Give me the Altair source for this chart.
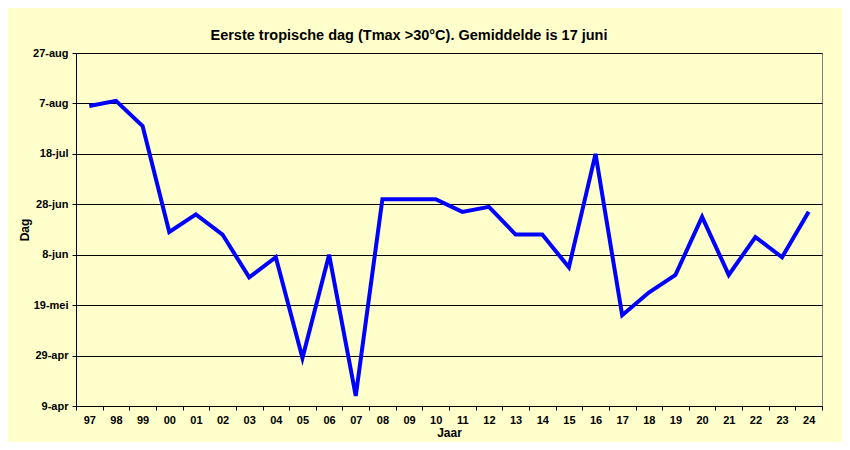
import altair as alt
import pandas as pd

years = ["97", "98", "99", "00", "01", "02", "03", "04", "05", "06", "07", "08", "09", "10",
         "11", "12", "13", "14", "15", "16", "17", "18", "19", "20", "21", "22", "23", "24"]
# day of year (non-leap) of the first tropical day
first_day = [218, 220, 210, 168, 175, 167, 150, 158, 118, 159, 103, 181, 181, 181,
             176, 178, 167, 167, 154, 199, 135, 144, 151, 174, 151, 166, 158, 176]
tick_days = [99, 119, 139, 159, 179, 199, 219, 239]
tick_labels = ["9-apr", "29-apr", "19-mei", "8-jun", "28-jun", "18-jul", "7-aug", "27-aug"]

df = pd.DataFrame({"jaar": years, "dag": first_day})

expr = "''"
for v, lab in zip(tick_days, tick_labels):
    expr = f"datum.value == {v} ? '{lab}' : ({expr})"

BG = "#FFFFCC"
FONT = "Liberation Sans"

chart = alt.Chart(df).mark_line(color="#0000FF", strokeWidth=4).encode(
    x=alt.X("jaar:O", sort=None,
            scale=alt.Scale(type="band", paddingInner=0, paddingOuter=0),
            axis=alt.Axis(title="Jaar", labelAngle=0, tickBand="extent", domainColor="black",
                          tickColor="black", tickSize=4, labelPadding=4,
                          labelFont=FONT, labelFontSize=11, labelFontWeight="bold", labelColor="black",
                          titleFont=FONT, titleFontSize=12, titleFontWeight="bold", titleColor="black",
                          titlePadding=2)),
    y=alt.Y("dag:Q",
            scale=alt.Scale(domain=[99, 239], nice=False, zero=False),
            axis=alt.Axis(title="Dag", values=tick_days, labelExpr=expr, grid=True,
                          gridColor="black", gridOpacity=1, gridWidth=1,
                          domainColor="black", tickColor="black", tickSize=4, labelPadding=4,
                          labelFont=FONT, labelFontSize=11, labelFontWeight="bold", labelColor="black",
                          titleFont=FONT, titleFontSize=12, titleFontWeight="bold", titleColor="black",
                          titlePadding=1)),
).properties(
    width=746, height=353,
    title=alt.TitleParams("Eerste tropische dag (Tmax >30°C). Gemiddelde is 17 juni",
                          font=FONT, fontSize=14.5, fontWeight="bold", color="black",
                          anchor="middle", dx=-40, offset=4),
    background=BG,
    autosize="none",
    padding={"left": 68, "top": 45, "right": 20, "bottom": 36},
).configure_view(stroke="#808080", fill=BG, strokeWidth=1)

chart.save("out.html", embed_options={"renderer": "svg", "actions": False})
